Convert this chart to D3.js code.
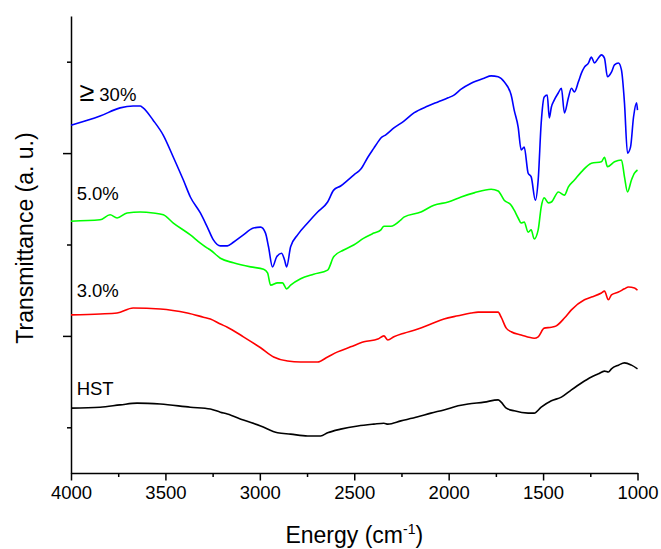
<!DOCTYPE html>
<html>
<head>
<meta charset="utf-8">
<script src="https://cdn.jsdelivr.net/npm/d3@7"></script>
<style>
  body { margin: 0; background: #fff; }
  svg { display: block; }
  text { font-family: "Liberation Sans", Arial, sans-serif; fill: #000; }
  .axis path, .axis line { stroke: #000; stroke-width: 1.5px; }
  .line { fill: none; stroke-width: 1.6px; stroke-linejoin: round; }
</style>
</head>
<body>
<script>
  // FTIR spectra, [wavenumber, transmittance] pairs
  var hst = [
    [4000,14.2],[3846,14.4],[3740,14.9],[3650,15.3],[3527,15.1],[3368,14.4],
    [3262,14.0],[3209,13.3],[3172,12.9],[3087,11.6],[2996,10.3],[2906,8.8],
    [2837,8.5],[2747,8.1],[2678,8.1],[2641,8.8],[2572,9.6],[2481,10.3],
    [2396,10.7],[2343,10.9],[2322,10.7],[2253,11.4],[2163,12.3],[2094,13.1],
    [2025,13.8],[1950,14.7],[1897,15.1],[1812,15.5],[1738,16.0],[1722,15.5],
    [1695,14.2],[1653,13.6],[1579,13.1],[1547,13.1],[1510,14.4],[1456,15.8],
    [1403,16.6],[1350,18.2],[1297,19.7],[1244,21.0],[1207,21.7],[1175,22.3],
    [1154,22.1],[1138,22.8],[1101,23.6],[1069,24.1],[1032,23.6],[1000,22.8]
  ];

  var pct3 = [
    [4000,34.6],[3846,34.8],[3756,35.0],[3671,36.1],[3527,35.9],[3384,35.0],
    [3299,34.1],[3262,33.7],[3209,32.6],[3172,31.9],[3087,29.8],[2996,27.4],
    [2927,25.4],[2853,24.5],[2784,24.3],[2694,24.3],[2641,25.4],[2588,26.5],
    [2519,27.6],[2449,28.7],[2375,29.3],[2343,30.0],[2322,29.1],[2290,29.8],
    [2237,30.6],[2163,31.5],[2094,32.6],[2025,33.7],[1950,34.4],[1881,35.0],
    [1844,35.2],[1738,35.2],[1722,34.1],[1695,31.7],[1669,30.9],[1616,30.2],
    [1547,29.5],[1526,29.8],[1494,31.7],[1456,31.9],[1430,32.2],[1387,33.9],
    [1350,35.7],[1281,37.9],[1244,38.5],[1191,39.4],[1175,39.8],[1154,37.9],
    [1138,39.0],[1101,39.6],[1069,40.3],[1048,40.7],[1016,40.5],[1000,40.0]
  ];

  var pct5 = [
    [4000,55.1],[3846,55.4],[3793,56.5],[3756,55.8],[3703,56.9],[3634,57.1],
    [3565,56.9],[3511,56.5],[3458,54.7],[3368,52.1],[3315,50.3],[3278,49.2],
    [3262,48.8],[3209,47.0],[3140,46.0],[3049,45.1],[2980,44.6],[2959,43.8],
    [2943,41.1],[2906,41.6],[2880,41.6],[2858,40.3],[2837,41.1],[2784,42.5],
    [2715,43.5],[2641,44.4],[2609,47.3],[2556,48.8],[2503,49.9],[2449,51.4],
    [2396,52.5],[2359,53.2],[2343,54.0],[2306,54.0],[2253,55.4],[2237,56.0],
    [2147,57.1],[2078,58.6],[2003,59.3],[1934,60.4],[1865,61.3],[1775,62.1],
    [1738,61.7],[1706,59.7],[1669,58.6],[1653,57.5],[1632,55.8],[1616,54.7],
    [1600,54.9],[1579,52.7],[1563,53.2],[1547,51.2],[1526,53.2],[1510,58.2],
    [1494,60.2],[1472,59.1],[1456,59.3],[1419,61.5],[1387,60.8],[1366,62.6],
    [1334,64.1],[1297,65.9],[1244,67.8],[1191,68.1],[1175,69.1],[1159,67.0],
    [1122,68.1],[1085,68.5],[1069,64.8],[1053,61.5],[1032,64.1],[1016,65.6],
    [1000,66.3]
  ];

  var pct30 = [
    [4000,76.1],[3846,78.1],[3740,79.9],[3671,80.3],[3634,80.3],[3618,79.9],
    [3565,77.2],[3511,73.9],[3458,69.1],[3405,64.1],[3368,60.4],[3315,56.9],
    [3278,53.8],[3246,51.0],[3209,49.7],[3172,49.7],[3140,50.5],[3087,52.1],
    [3034,53.6],[2996,53.8],[2970,52.5],[2954,49.5],[2933,45.1],[2911,47.3],
    [2885,48.1],[2869,46.6],[2858,45.1],[2837,49.5],[2800,52.1],[2747,54.7],
    [2694,57.1],[2641,59.3],[2609,61.9],[2572,62.8],[2534,64.1],[2503,65.2],
    [2465,66.5],[2428,69.1],[2396,71.1],[2375,72.4],[2359,73.3],[2333,74.0],
    [2290,75.5],[2237,77.0],[2184,78.8],[2110,80.3],[2057,81.2],[2003,82.1],
    [1972,82.7],[1934,84.0],[1881,85.3],[1812,86.4],[1775,86.9],[1738,86.7],
    [1706,85.6],[1669,82.7],[1653,79.4],[1632,75.7],[1616,70.7],[1600,71.3],
    [1579,65.6],[1563,64.8],[1541,59.7],[1526,64.1],[1510,76.6],[1494,82.3],
    [1478,82.7],[1467,77.7],[1456,80.1],[1441,81.6],[1419,83.2],[1403,84.2],
    [1387,78.8],[1366,82.1],[1350,84.2],[1334,83.4],[1313,85.6],[1297,87.5],
    [1281,88.8],[1260,89.7],[1244,91.0],[1228,89.7],[1207,90.8],[1191,91.5],
    [1175,90.8],[1159,86.7],[1138,87.7],[1122,89.3],[1101,89.7],[1085,88.2],
    [1069,81.0],[1053,70.0],[1037,71.3],[1021,77.9],[1005,81.0],[1000,79.4]
  ];

  var seriesNames = ["HST", "3.0%", "5.0%", "30%"];
  var seriesColors = ["#000000", "#ff0000", "#00ff00", "#0000ff"];
  var seriesData = [hst, pct3, pct5, pct30];

  var xMajor = [4000, 3500, 3000, 2500, 2000, 1500, 1000];
  var xMinor = [3750, 3250, 2750, 2250, 1750, 1250];
  var yMajor = [30, 70];
  var yMinor = [10, 50, 90];

  var width = 661, height = 549;
  var margin = {top: 16, right: 23.5, bottom: 76, left: 71};
  var plotRight = width - margin.right,
      plotBottom = height - margin.bottom;

  var svg = d3.select("body").append("svg")
      .attr("width", width)
      .attr("height", height);

  var x = d3.scaleLinear().domain([4000, 1000]).range([margin.left, plotRight]);
  var y = d3.scaleLinear().domain([0, 100]).range([plotBottom, margin.top]);

  // axis-x
  svg.append("g")
      .attr("class", "axis")
      .attr("transform", "translate(0," + plotBottom + ")")
      .call(d3.axisBottom(x).tickValues(xMajor).tickSize(7.5).tickSizeOuter(0).tickPadding(5)
        .tickFormat(d3.format("d")))
      .call(function(g) {
        g.selectAll("text").attr("font-size", "18.5px")
          .attr("font-family", "Liberation Sans, Arial, sans-serif");
      });

  svg.append("g")
      .attr("class", "axis")
      .attr("transform", "translate(0," + plotBottom + ")")
      .call(d3.axisBottom(x).tickValues(xMinor).tickSize(4).tickFormat(""))
      .call(function(g) { g.select(".domain").remove(); });

  // axis-y, no labels
  svg.append("g")
      .attr("class", "axis")
      .attr("transform", "translate(" + margin.left + ",0)")
      .call(d3.axisLeft(y).tickValues(yMajor).tickSize(8).tickSizeOuter(0).tickFormat(""));

  svg.append("g")
      .attr("class", "axis")
      .attr("transform", "translate(" + margin.left + ",0)")
      .call(d3.axisLeft(y).tickValues(yMinor).tickSize(4).tickFormat(""))
      .call(function(g) { g.select(".domain").remove(); });

  // spectra
  var line = d3.line()
      .x(function(d) { return x(d[0]); })
      .y(function(d) { return y(d[1]); })
      .curve(d3.curveMonotoneX);

  seriesData.forEach(function(s, i) {
    svg.append("path")
      .attr("class", "line")
      .attr("stroke", seriesColors[i])
      .attr("d", line(s));
  });

  // curve labels
  var labelX = 3970;
  var labelY = [17.0, 38.5, 59.8, 81.3];
  seriesNames.forEach(function(name, i) {
    var t = svg.append("text")
      .attr("x", x(labelX))
      .attr("y", y(labelY[i]))
      .attr("font-size", "18.5px");
    if (i === 3) {
      t.attr("x", x(3955));
      t.append("tspan").attr("font-size", "27px").text("\u2265");
      t.append("tspan").attr("dx", "5").text(name);
    } else {
      t.text(name);
    }
  });

  // axis titles
  var xt = svg.append("text")
      .attr("x", (margin.left + plotRight) / 2)
      .attr("y", 543)
      .attr("text-anchor", "middle")
      .attr("font-size", "23px");
  xt.append("tspan").text("Energy (cm");
  xt.append("tspan").attr("font-size", "14px").attr("dy", "-9").text("-1");
  xt.append("tspan").attr("dy", "9").text(")");

  svg.append("text")
      .attr("transform", "translate(33,238) rotate(-90)")
      .attr("text-anchor", "middle")
      .attr("font-size", "23px")
      .text("Transmittance (a. u.)");
</script>
</body>
</html>
